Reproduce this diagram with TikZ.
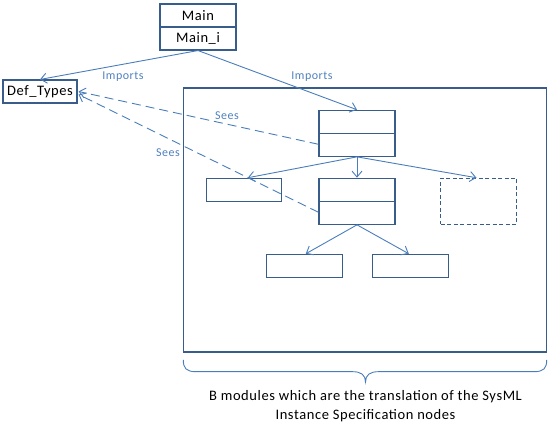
\documentclass[tikz,border=0pt]{standalone}
\usepackage{fontspec}
\setmainfont[LetterSpace=4]{Carlito}
\usetikzlibrary{arrows.meta,calc}
\definecolor{boxc}{RGB}{56,93,138}
\definecolor{linec}{RGB}{74,126,187}
\definecolor{labc}{RGB}{79,129,189}
\begin{document}
\begin{tikzpicture}[x=1pt,y=-1pt,
  box/.style={draw=boxc,line width=1.1pt,rectangle,inner sep=0pt,fill=white},
  conn/.style={draw=linec,line width=0.9pt,-{Straight Barb[length=6pt,width=10pt,line width=0.9pt]}},
  sees/.style={conn,dash pattern=on 9pt off 5pt},
  lab/.style={text=labc,font=\fontsize{12}{14}\selectfont,inner sep=0pt},
  txt/.style={font=\fontsize{14.5}{19}\selectfont}]
\useasboundingbox (0,0) rectangle (558,427);
% boxes
\node[box,minimum width=76pt,minimum height=46pt] (main) at (198,27) {};
\draw[boxc,line width=1.1pt] (main.west) -- (main.east);
\node[txt] (mainA) at (198,16) {Main};
\node[txt] (mainB) at (198,38.5) {Main\_i};
\node[box,minimum width=74pt,minimum height=23pt,txt] (def) at (40,91.5) {Def\_Types};
\node[box,fill=none,minimum width=363pt,minimum height=264pt] (big) at (365,220) {};
\node[box,minimum width=76pt,minimum height=46pt] (top) at (357,133.3) {};
\draw[boxc,line width=1.1pt] (top.west) -- (top.east);
\node[box,minimum width=75pt,minimum height=23pt] (left) at (243.8,189.8) {};
\node[box,minimum width=76pt,minimum height=46pt] (mid) at (357,201.3) {};
\draw[boxc,line width=1.1pt] (mid.west) -- (mid.east);
\node[box,dash pattern=on 4pt off 2.5pt,minimum width=76pt,minimum height=46pt] (dash) at (478.5,201.3) {};
\node[box,minimum width=76pt,minimum height=23pt] (bl) at (304.3,265.8) {};
\node[box,minimum width=76pt,minimum height=23pt] (br) at (410.3,265.8) {};
% connectors
\draw[conn] (main.south) -- (def.north);
\draw[conn] (main.south) -- (top.north);
\node[lab] (imp1) at (123,77) {Imports};
\node[lab] (imp2) at (312,77) {Imports};
\draw[sees] ($(top.west)+(0,11)$) -- ($(def.east)+(1,0)$);
\draw[sees] ($(mid.west)+(0,11)$) -- ($(def.east)+(1,3)$);
\node[lab] (sees1) at (227,116) {Sees};
\node[lab] (sees2) at (168,153) {Sees};
\draw[conn] (top.south) -- ($(left.north)+(4,0)$);
\draw[conn] (top.south) -- (mid.north);
\draw[conn] (top.south) -- ($(dash.north)+(-2,0)$);
\draw[conn] (mid.south) -- ($(bl.north)+(1.5,0)$);
\draw[conn] (mid.south) -- ($(br.north)+(-1.5,0)$);
% brace
\coordinate (bL) at (183.3,360);
\coordinate (bR) at (546.7,360);
\coordinate (bT) at (365.5,382);
\draw[linec,line width=0.9pt] (bL) .. controls (183.3,368) and (186,371.7) .. (196,371.7)
  -- (353,371.7) .. controls (361,371.7) and (365.5,375) .. (bT)
  .. controls (365.5,375) and (370,371.7) .. (378,371.7)
  -- (534,371.7) .. controls (544,371.7) and (546.7,368) .. (bR);
\node[txt,align=center] (cap) at (365.5,406) {B modules which are the translation of the SysML\\Instance Specification nodes};
\end{tikzpicture}
\end{document}
